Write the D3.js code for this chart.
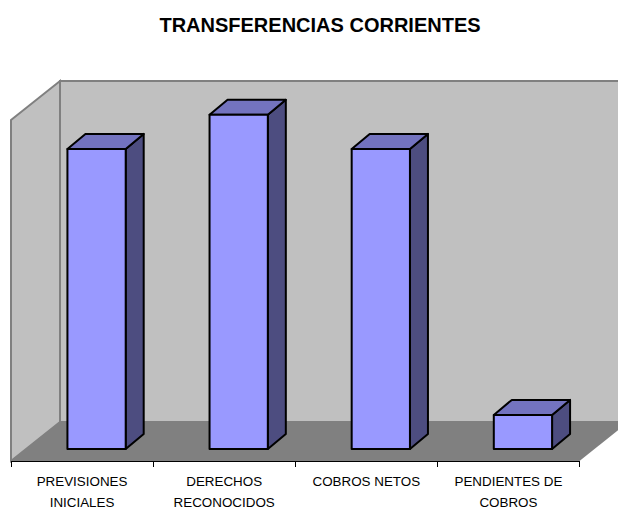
<!DOCTYPE html>
<html>
<head>
<meta charset="utf-8">
<script src="https://cdn.jsdelivr.net/npm/d3@7"></script>
<style>
    html, body { margin: 0; padding: 0; background: #fff; }
    svg { display: block; }
    text { font-family: "Liberation Sans", Arial, sans-serif; }
</style>
</head>
<body>
<div id="chart"></div>
<script>
var categories = [
    ["PREVISIONES", "INICIALES"],
    ["DERECHOS", "RECONOCIDOS"],
    ["COBROS NETOS"],
    ["PENDIENTES DE", "COBROS"]
];
var values = [88, 98, 88, 10];
var yDomain = [0, 100];

var svgWidth = 618;
var svgHeight = 510;

// front plane of the 3D box, the back wall sits up and to the right of it
var plot = { left: 11, right: 579.5, top: 120, bottom: 461 };
var depth = { x: 49, y: 39 };
var barOffset = { x: 14.5, y: 12 };
var barDepth = { x: 18, y: 15 };

var svg = d3.select("#chart").append("svg")
    .attr("width", svgWidth)
    .attr("height", svgHeight);

svg.append("text")
    .attr("x", 320)
    .attr("y", 32)
    .attr("text-anchor", "middle")
    .attr("font-size", "20px")
    .attr("font-weight", "bold")
    .text("TRANSFERENCIAS CORRIENTES");

var xScale = d3.scaleBand()
    .domain(d3.range(categories.length))
    .range([plot.left, plot.right])
    .paddingInner(0.59)
    .paddingOuter(0.295);

var yScale = d3.scaleLinear()
    .domain(yDomain)
    .range([plot.bottom, plot.top]);

function pts(list) {
    return list.map(p => p.join(",")).join(" ");
}

var wallGroup = svg.append("g");

// left wall
wallGroup.append("polygon")
    .attr("points", pts([
        [plot.left, plot.top],
        [plot.left + depth.x, plot.top - depth.y],
        [plot.left + depth.x, plot.bottom - depth.y],
        [plot.left, plot.bottom]
    ]))
    .attr("fill", "#c0c0c0")
    .attr("stroke", "#808080")
    .attr("stroke-width", 2);

// back wall
wallGroup.append("polygon")
    .attr("points", pts([
        [plot.left + depth.x, plot.top - depth.y],
        [plot.right + depth.x, plot.top - depth.y],
        [plot.right + depth.x, plot.bottom - depth.y],
        [plot.left + depth.x, plot.bottom - depth.y]
    ]))
    .attr("fill", "#c0c0c0")
    .attr("stroke", "#808080")
    .attr("stroke-width", 2);

// floor
wallGroup.append("polygon")
    .attr("points", pts([
        [plot.left, plot.bottom],
        [plot.left + depth.x, plot.bottom - depth.y],
        [plot.right + depth.x, plot.bottom - depth.y],
        [plot.right, plot.bottom]
    ]))
    .attr("fill", "#808080");

// bars
var bars = svg.selectAll(".bar")
    .data(values)
    .enter()
    .append("g")
    .attr("class", "bar")
    .attr("stroke", "#000")
    .attr("stroke-width", 2)
    .attr("stroke-linejoin", "round");

function barBox(d, i) {
    var x0 = xScale(i) + barOffset.x;
    return {
        x0: x0,
        x1: x0 + xScale.bandwidth(),
        y0: yScale(d) - barOffset.y,
        y1: yScale(0) - barOffset.y
    };
}

bars.append("polygon")
    .attr("fill", "#4d4d80")
    .attr("points", function (d, i) {
        var b = barBox(d, i);
        return pts([[b.x1, b.y0], [b.x1 + barDepth.x, b.y0 - barDepth.y],
            [b.x1 + barDepth.x, b.y1 - barDepth.y], [b.x1, b.y1]]);
    });

bars.append("polygon")
    .attr("fill", "#7373bf")
    .attr("points", function (d, i) {
        var b = barBox(d, i);
        return pts([[b.x0, b.y0], [b.x0 + barDepth.x, b.y0 - barDepth.y],
            [b.x1 + barDepth.x, b.y0 - barDepth.y], [b.x1, b.y0]]);
    });

bars.append("rect")
    .attr("fill", "#9999ff")
    .attr("x", (d, i) => barBox(d, i).x0)
    .attr("y", (d, i) => barBox(d, i).y0)
    .attr("width", xScale.bandwidth())
    .attr("height", (d, i) => barBox(d, i).y1 - barBox(d, i).y0);

// axis line and the ticks between categories
var step = xScale.step();
var axisGroup = svg.append("g").attr("stroke", "#000").attr("stroke-width", 1);

axisGroup.append("line")
    .attr("x1", plot.left)
    .attr("x2", plot.right)
    .attr("y1", plot.bottom + 0.5)
    .attr("y2", plot.bottom + 0.5);

axisGroup.selectAll(".tick")
    .data(d3.range(categories.length + 1))
    .enter()
    .append("line")
    .attr("class", "tick")
    .attr("x1", d => Math.floor(plot.left + d * step) + 0.5)
    .attr("x2", d => Math.floor(plot.left + d * step) + 0.5)
    .attr("y1", plot.bottom)
    .attr("y2", plot.bottom + 6);

// category labels
var labels = svg.selectAll(".label")
    .data(categories)
    .enter()
    .append("text")
    .attr("class", "label")
    .attr("text-anchor", "middle")
    .attr("font-size", "13.4px")
    .attr("fill", "#000");

labels.selectAll("tspan")
    .data((d, i) => d.map(line => ({ line: line, i: i })))
    .enter()
    .append("tspan")
    .attr("x", d => xScale(d.i) + xScale.bandwidth() / 2)
    .attr("y", (d, j) => 486 + j * 21)
    .text(d => d.line);
</script>
</body>
</html>
